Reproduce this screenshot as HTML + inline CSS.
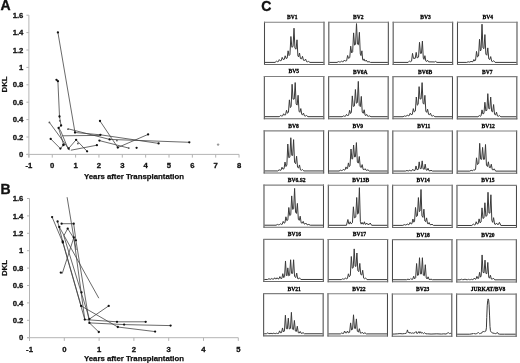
<!DOCTYPE html>
<html><head><meta charset="utf-8"><style>
html,body{margin:0;padding:0;background:#fff;}
body{width:520px;height:363px;overflow:hidden;}
svg{display:block;will-change:transform;}
.pl{font-family:"Liberation Sans", sans-serif;font-weight:bold;font-size:14px;fill:#111;stroke:#111;stroke-width:0.35px;}
.tk{font-family:"Liberation Sans", sans-serif;font-weight:bold;font-size:7.7px;fill:#111;stroke:#111;stroke-width:0.3px;}
.ax{font-family:"Liberation Sans", sans-serif;font-weight:bold;font-size:7.8px;fill:#111;stroke:#111;stroke-width:0.25px;}
.hl{font-family:"Liberation Serif", serif;font-weight:bold;font-size:6.2px;fill:#000;stroke:#000;stroke-width:0.3px;}
</style></head><body>
<svg width="520" height="363" viewBox="0 0 520 363">
<rect width="520" height="363" fill="#fff"/>
<text x="0.5" y="10.4" class="pl">A</text>
<text x="0.4" y="193.5" class="pl">B</text>
<text x="261.3" y="10.6" class="pl">C</text>
<line x1="28.9" y1="15.200000000000017" x2="28.9" y2="157.6" stroke="#b4b4b4" stroke-width="1"/>
<line x1="26.4" y1="154.4" x2="239.05" y2="154.4" stroke="#b4b4b4" stroke-width="1"/>
<line x1="26.4" y1="154.40" x2="28.9" y2="154.40" stroke="#b4b4b4" stroke-width="1"/>
<text x="23.4" y="157.00" text-anchor="end" class="tk">0</text>
<line x1="26.4" y1="137.00" x2="28.9" y2="137.00" stroke="#b4b4b4" stroke-width="1"/>
<text x="23.4" y="139.60" text-anchor="end" class="tk">0.2</text>
<line x1="26.4" y1="119.60" x2="28.9" y2="119.60" stroke="#b4b4b4" stroke-width="1"/>
<text x="23.4" y="122.20" text-anchor="end" class="tk">0.4</text>
<line x1="26.4" y1="102.20" x2="28.9" y2="102.20" stroke="#b4b4b4" stroke-width="1"/>
<text x="23.4" y="104.80" text-anchor="end" class="tk">0.6</text>
<line x1="26.4" y1="84.80" x2="28.9" y2="84.80" stroke="#b4b4b4" stroke-width="1"/>
<text x="23.4" y="87.40" text-anchor="end" class="tk">0.8</text>
<line x1="26.4" y1="67.40" x2="28.9" y2="67.40" stroke="#b4b4b4" stroke-width="1"/>
<text x="23.4" y="70.00" text-anchor="end" class="tk">1</text>
<line x1="26.4" y1="50.00" x2="28.9" y2="50.00" stroke="#b4b4b4" stroke-width="1"/>
<text x="23.4" y="52.60" text-anchor="end" class="tk">1.2</text>
<line x1="26.4" y1="32.60" x2="28.9" y2="32.60" stroke="#b4b4b4" stroke-width="1"/>
<text x="23.4" y="35.20" text-anchor="end" class="tk">1.4</text>
<line x1="26.4" y1="15.20" x2="28.9" y2="15.20" stroke="#b4b4b4" stroke-width="1"/>
<text x="23.4" y="17.80" text-anchor="end" class="tk">1.6</text>
<line x1="28.90" y1="154.4" x2="28.90" y2="157.6" stroke="#b4b4b4" stroke-width="1"/>
<text x="28.90" y="168.40" text-anchor="middle" class="tk">-1</text>
<line x1="52.25" y1="154.4" x2="52.25" y2="157.6" stroke="#b4b4b4" stroke-width="1"/>
<text x="52.25" y="168.40" text-anchor="middle" class="tk">0</text>
<line x1="75.60" y1="154.4" x2="75.60" y2="157.6" stroke="#b4b4b4" stroke-width="1"/>
<text x="75.60" y="168.40" text-anchor="middle" class="tk">1</text>
<line x1="98.95" y1="154.4" x2="98.95" y2="157.6" stroke="#b4b4b4" stroke-width="1"/>
<text x="98.95" y="168.40" text-anchor="middle" class="tk">2</text>
<line x1="122.30" y1="154.4" x2="122.30" y2="157.6" stroke="#b4b4b4" stroke-width="1"/>
<text x="122.30" y="168.40" text-anchor="middle" class="tk">3</text>
<line x1="145.65" y1="154.4" x2="145.65" y2="157.6" stroke="#b4b4b4" stroke-width="1"/>
<text x="145.65" y="168.40" text-anchor="middle" class="tk">4</text>
<line x1="169.00" y1="154.4" x2="169.00" y2="157.6" stroke="#b4b4b4" stroke-width="1"/>
<text x="169.00" y="168.40" text-anchor="middle" class="tk">5</text>
<line x1="192.35" y1="154.4" x2="192.35" y2="157.6" stroke="#b4b4b4" stroke-width="1"/>
<text x="192.35" y="168.40" text-anchor="middle" class="tk">6</text>
<line x1="215.70" y1="154.4" x2="215.70" y2="157.6" stroke="#b4b4b4" stroke-width="1"/>
<text x="215.70" y="168.40" text-anchor="middle" class="tk">7</text>
<line x1="239.05" y1="154.4" x2="239.05" y2="157.6" stroke="#b4b4b4" stroke-width="1"/>
<text x="239.05" y="168.40" text-anchor="middle" class="tk">8</text>
<text x="134" y="178.8" text-anchor="middle" class="ax">Years after Transplantation</text>
<text transform="translate(7.0,84.4) rotate(-90)" text-anchor="middle" class="ax">DKL</text>
<polyline points="57.9,32.4 75.0,132.5 100.4,134.8 158.6,143.4" fill="none" stroke="#444" stroke-width="0.8" stroke-linejoin="round"/>
<polyline points="68.1,128.8 109.6,139.4 189.3,142.3" fill="none" stroke="#444" stroke-width="0.8" stroke-linejoin="round"/>
<polyline points="62.4,135.8 100.4,135.4" fill="none" stroke="#444" stroke-width="0.8" stroke-linejoin="round"/>
<polyline points="100.0,121.0 117.8,147.5 148.1,134.4" fill="none" stroke="#444" stroke-width="0.8" stroke-linejoin="round"/>
<polyline points="68.6,148.5 76.1,139.8 87.1,151.3" fill="none" stroke="#444" stroke-width="0.8" stroke-linejoin="round"/>
<polyline points="71.0,150.2 96.9,145.2" fill="none" stroke="#444" stroke-width="0.8" stroke-linejoin="round"/>
<polyline points="50.7,138.9 60.4,148.6 63.4,145.0" fill="none" stroke="#444" stroke-width="0.8" stroke-linejoin="round"/>
<polyline points="49.4,122.4 69.8,150.3" fill="none" stroke="#444" stroke-width="0.8" stroke-linejoin="round"/>
<polyline points="56.5,79.8 57.9,81.2 59.5,116.5 61.1,125.5 58.6,128.0 63.6,144.7" fill="none" stroke="#444" stroke-width="0.8" stroke-linejoin="round"/>
<polyline points="58.6,128.0 60.5,130.5 68.0,148.5" fill="none" stroke="#444" stroke-width="0.8" stroke-linejoin="round"/>
<polyline points="99.4,140.6 128.8,148.1" fill="none" stroke="#444" stroke-width="0.8" stroke-linejoin="round"/>
<circle cx="57.9" cy="32.4" r="1.15" fill="#111"/>
<circle cx="56.5" cy="79.8" r="1.15" fill="#111"/>
<circle cx="57.9" cy="81.2" r="1.15" fill="#111"/>
<circle cx="59.5" cy="116.5" r="1.15" fill="#111"/>
<circle cx="61.1" cy="125.5" r="1.15" fill="#111"/>
<circle cx="58.6" cy="128.0" r="1.15" fill="#111"/>
<circle cx="75.0" cy="132.5" r="1.15" fill="#111"/>
<circle cx="100.4" cy="134.8" r="1.15" fill="#111"/>
<circle cx="158.6" cy="143.4" r="1.15" fill="#111"/>
<circle cx="189.3" cy="142.3" r="1.15" fill="#111"/>
<circle cx="109.6" cy="139.4" r="1.15" fill="#111"/>
<circle cx="100.0" cy="121.0" r="1.15" fill="#111"/>
<circle cx="117.8" cy="147.5" r="1.15" fill="#111"/>
<circle cx="148.1" cy="134.4" r="1.15" fill="#111"/>
<circle cx="76.1" cy="139.8" r="1.15" fill="#111"/>
<circle cx="87.1" cy="151.3" r="1.15" fill="#111"/>
<circle cx="68.6" cy="148.5" r="1.15" fill="#111"/>
<circle cx="96.9" cy="145.2" r="1.15" fill="#111"/>
<circle cx="50.7" cy="138.9" r="1.15" fill="#111"/>
<circle cx="60.4" cy="148.6" r="1.15" fill="#111"/>
<circle cx="63.4" cy="145.0" r="1.15" fill="#111"/>
<circle cx="99.4" cy="140.6" r="1.15" fill="#111"/>
<circle cx="136.6" cy="147.8" r="1.15" fill="#111"/>
<circle cx="63.6" cy="144.7" r="1.15" fill="#111"/>
<circle cx="218.1" cy="144.6" r="1.2" fill="#999"/>
<circle cx="49.4" cy="122.4" r="0.9" fill="#555"/>
<circle cx="116.9" cy="140.6" r="0.9" fill="#555"/>
<circle cx="59.8" cy="120.8" r="0.9" fill="#555"/>
<circle cx="77.9" cy="143.5" r="0.9" fill="#555"/>
<circle cx="128.8" cy="148.1" r="0.9" fill="#555"/>
<circle cx="68.0" cy="129.2" r="0.9" fill="#555"/>
<line x1="29.5" y1="198.5" x2="29.5" y2="340.9" stroke="#b4b4b4" stroke-width="1"/>
<line x1="27.0" y1="337.7" x2="238.29999999999998" y2="337.7" stroke="#b4b4b4" stroke-width="1"/>
<line x1="27.0" y1="337.70" x2="29.5" y2="337.70" stroke="#b4b4b4" stroke-width="1"/>
<text x="23.4" y="340.30" text-anchor="end" class="tk">0</text>
<line x1="27.0" y1="320.30" x2="29.5" y2="320.30" stroke="#b4b4b4" stroke-width="1"/>
<text x="23.4" y="322.90" text-anchor="end" class="tk">0.2</text>
<line x1="27.0" y1="302.90" x2="29.5" y2="302.90" stroke="#b4b4b4" stroke-width="1"/>
<text x="23.4" y="305.50" text-anchor="end" class="tk">0.4</text>
<line x1="27.0" y1="285.50" x2="29.5" y2="285.50" stroke="#b4b4b4" stroke-width="1"/>
<text x="23.4" y="288.10" text-anchor="end" class="tk">0.6</text>
<line x1="27.0" y1="268.10" x2="29.5" y2="268.10" stroke="#b4b4b4" stroke-width="1"/>
<text x="23.4" y="270.70" text-anchor="end" class="tk">0.8</text>
<line x1="27.0" y1="250.70" x2="29.5" y2="250.70" stroke="#b4b4b4" stroke-width="1"/>
<text x="23.4" y="253.30" text-anchor="end" class="tk">1</text>
<line x1="27.0" y1="233.30" x2="29.5" y2="233.30" stroke="#b4b4b4" stroke-width="1"/>
<text x="23.4" y="235.90" text-anchor="end" class="tk">1.2</text>
<line x1="27.0" y1="215.90" x2="29.5" y2="215.90" stroke="#b4b4b4" stroke-width="1"/>
<text x="23.4" y="218.50" text-anchor="end" class="tk">1.4</text>
<line x1="27.0" y1="198.50" x2="29.5" y2="198.50" stroke="#b4b4b4" stroke-width="1"/>
<text x="23.4" y="201.10" text-anchor="end" class="tk">1.6</text>
<line x1="29.50" y1="337.7" x2="29.50" y2="340.9" stroke="#b4b4b4" stroke-width="1"/>
<text x="29.50" y="351.80" text-anchor="middle" class="tk">-1</text>
<line x1="64.30" y1="337.7" x2="64.30" y2="340.9" stroke="#b4b4b4" stroke-width="1"/>
<text x="64.30" y="351.80" text-anchor="middle" class="tk">0</text>
<line x1="99.10" y1="337.7" x2="99.10" y2="340.9" stroke="#b4b4b4" stroke-width="1"/>
<text x="99.10" y="351.80" text-anchor="middle" class="tk">1</text>
<line x1="133.90" y1="337.7" x2="133.90" y2="340.9" stroke="#b4b4b4" stroke-width="1"/>
<text x="133.90" y="351.80" text-anchor="middle" class="tk">2</text>
<line x1="168.70" y1="337.7" x2="168.70" y2="340.9" stroke="#b4b4b4" stroke-width="1"/>
<text x="168.70" y="351.80" text-anchor="middle" class="tk">3</text>
<line x1="203.50" y1="337.7" x2="203.50" y2="340.9" stroke="#b4b4b4" stroke-width="1"/>
<text x="203.50" y="351.80" text-anchor="middle" class="tk">4</text>
<line x1="238.30" y1="337.7" x2="238.30" y2="340.9" stroke="#b4b4b4" stroke-width="1"/>
<text x="238.30" y="351.80" text-anchor="middle" class="tk">5</text>
<text x="134" y="360.9" text-anchor="middle" class="ax">Years after Transplantation</text>
<text transform="translate(7.0,268.0) rotate(-90)" text-anchor="middle" class="ax">DKL</text>
<polyline points="67.1,197.2 73.7,237.0 84.8,319.6" fill="none" stroke="#444" stroke-width="0.8" stroke-linejoin="round"/>
<polyline points="52.1,217.1 62.8,242.4 84.8,319.6 117.0,321.8 145.7,321.8" fill="none" stroke="#444" stroke-width="0.8" stroke-linejoin="round"/>
<polyline points="57.6,221.5 62.7,241.4 81.1,305.9 117.8,327.0 155.1,331.6" fill="none" stroke="#444" stroke-width="0.8" stroke-linejoin="round"/>
<polyline points="61.6,223.7 73.7,223.7 75.9,240.3 89.4,322.9 124.1,324.6 170.6,325.6" fill="none" stroke="#444" stroke-width="0.8" stroke-linejoin="round"/>
<polyline points="59.3,227.0 98.8,298.2" fill="none" stroke="#444" stroke-width="0.8" stroke-linejoin="round"/>
<polyline points="67.7,228.6 63.8,235.8 89.4,319.1 108.7,305.9" fill="none" stroke="#444" stroke-width="0.8" stroke-linejoin="round"/>
<polyline points="60.0,272.3 62.3,273.3 73.7,238.0" fill="none" stroke="#444" stroke-width="0.8" stroke-linejoin="round"/>
<polyline points="89.4,322.9 98.8,332.0" fill="none" stroke="#444" stroke-width="0.8" stroke-linejoin="round"/>
<polyline points="67.7,228.6 74.0,238.5 76.2,250.0" fill="none" stroke="#444" stroke-width="0.8" stroke-linejoin="round"/>
<circle cx="52.1" cy="217.1" r="1.15" fill="#111"/>
<circle cx="57.6" cy="221.5" r="1.15" fill="#111"/>
<circle cx="61.6" cy="223.7" r="1.15" fill="#111"/>
<circle cx="73.7" cy="223.7" r="1.15" fill="#111"/>
<circle cx="59.3" cy="227.0" r="1.15" fill="#111"/>
<circle cx="67.7" cy="228.6" r="1.15" fill="#111"/>
<circle cx="62.8" cy="242.4" r="1.15" fill="#111"/>
<circle cx="62.7" cy="241.4" r="1.15" fill="#111"/>
<circle cx="75.9" cy="240.3" r="1.15" fill="#111"/>
<circle cx="73.8" cy="237.4" r="1.15" fill="#111"/>
<circle cx="81.1" cy="305.9" r="1.15" fill="#111"/>
<circle cx="81.5" cy="292.4" r="1.15" fill="#111"/>
<circle cx="84.8" cy="319.6" r="1.15" fill="#111"/>
<circle cx="89.4" cy="319.1" r="1.15" fill="#111"/>
<circle cx="89.4" cy="322.9" r="1.15" fill="#111"/>
<circle cx="108.7" cy="305.9" r="1.15" fill="#111"/>
<circle cx="98.8" cy="332.0" r="1.15" fill="#111"/>
<circle cx="117.0" cy="321.8" r="1.15" fill="#111"/>
<circle cx="145.7" cy="321.8" r="1.15" fill="#111"/>
<circle cx="124.1" cy="324.6" r="1.15" fill="#111"/>
<circle cx="170.6" cy="325.6" r="1.15" fill="#111"/>
<circle cx="117.8" cy="327.0" r="1.15" fill="#111"/>
<circle cx="155.1" cy="331.6" r="1.15" fill="#111"/>
<circle cx="60.8" cy="272.6" r="1.15" fill="#111"/>
<path d="M264.50,21.80V65.00M324.00,21.80V65.00" stroke="#4a4a4a" stroke-width="1.05" fill="none"/>
<path d="M264.00,22.30H324.50" stroke="#808080" stroke-width="1.1" fill="none"/>
<path d="M264.00,64.50H324.50" stroke="#6a6a6a" stroke-width="1.05" fill="none"/>
<polyline points="265.00,62.40 275.05,62.40 276.50,61.20 277.45,61.70 278.35,61.57 279.30,59.60 280.25,60.76 281.25,60.58 282.20,57.40 283.15,59.47 284.25,59.34 285.20,55.80 286.15,58.53 287.15,58.13 288.10,50.80 289.05,55.60 289.95,54.46 290.90,36.50 291.85,47.22 293.05,46.56 294.00,28.20 294.95,48.23 296.05,49.16 297.00,39.80 297.90,55.84 298.60,56.89 299.50,53.00 300.45,58.56 301.55,58.83 302.50,56.30 303.45,60.24 304.65,60.47 305.60,59.10 306.55,61.63 307.55,61.81 308.50,61.40 309.95,62.40 323.50,62.40" fill="none" stroke="#3a3a3a" stroke-width="1.0" stroke-linejoin="round"/>
<text transform="translate(292.35,19.20) scale(0.9,1)" text-anchor="middle" class="hl">BV1</text>
<path d="M328.83,21.80V65.00M388.33,21.80V65.00" stroke="#4a4a4a" stroke-width="1.05" fill="none"/>
<path d="M328.33,22.30H388.83" stroke="#808080" stroke-width="1.1" fill="none"/>
<path d="M328.33,64.50H388.83" stroke="#6a6a6a" stroke-width="1.05" fill="none"/>
<polyline points="329.33,62.40 337.05,62.40 338.50,61.60 339.45,61.93 340.45,61.90 341.40,61.20 342.35,61.70 343.35,61.61 344.30,60.10 345.25,61.05 346.65,60.68 347.60,55.50 348.55,58.36 349.75,57.61 350.70,46.20 351.65,52.91 352.65,51.84 353.60,32.90 354.55,45.11 355.55,44.37 356.50,23.60 357.45,44.07 358.45,44.76 359.40,32.30 360.30,54.12 361.00,55.60 361.90,50.80 362.66,59.70 363.24,60.35 364.00,58.90 364.83,60.96 365.47,61.05 366.30,60.10 367.25,61.81 368.05,61.93 369.00,61.60 370.45,62.40 387.83,62.40" fill="none" stroke="#3a3a3a" stroke-width="1.0" stroke-linejoin="round"/>
<text transform="translate(358.18,19.20) scale(0.9,1)" text-anchor="middle" class="hl">BV2</text>
<path d="M393.16,21.80V65.00M452.66,21.80V65.00" stroke="#4a4a4a" stroke-width="1.05" fill="none"/>
<path d="M392.66,22.30H453.16" stroke="#808080" stroke-width="1.1" fill="none"/>
<path d="M392.66,64.50H453.16" stroke="#6a6a6a" stroke-width="1.05" fill="none"/>
<polyline points="393.66,62.40 408.15,62.40 409.60,60.90 410.55,61.73 411.55,61.13 412.50,53.40 413.45,58.37 415.25,58.29 416.20,52.40 417.15,57.92 418.55,57.11 419.50,42.30 420.45,53.40 421.45,53.30 422.40,41.10 423.30,58.23 424.00,59.40 424.90,55.70 425.85,61.09 426.65,61.46 427.60,60.30 428.55,61.86 434.55,61.95 435.50,61.40 436.95,62.40 452.16,62.40" fill="none" stroke="#3a3a3a" stroke-width="1.0" stroke-linejoin="round"/>
<text transform="translate(425.51,19.20) scale(0.9,1)" text-anchor="middle" class="hl">BV3</text>
<path d="M457.49,21.80V65.00M516.99,21.80V65.00" stroke="#4a4a4a" stroke-width="1.05" fill="none"/>
<path d="M456.99,22.30H517.49" stroke="#808080" stroke-width="1.1" fill="none"/>
<path d="M456.99,64.50H517.49" stroke="#6a6a6a" stroke-width="1.05" fill="none"/>
<polyline points="457.99,62.40 466.75,62.40 468.20,61.80 469.15,62.10 470.05,62.06 471.00,61.20 471.95,61.81 472.95,61.67 473.90,59.50 474.84,60.97 475.56,60.32 476.50,51.40 477.45,56.97 478.55,56.00 479.50,39.30 480.40,50.99 481.10,49.78 482.00,24.20 482.95,47.83 483.95,48.67 484.90,34.60 485.85,54.17 486.85,55.24 487.80,47.90 488.75,58.84 489.75,59.53 490.70,56.60 491.65,61.23 492.65,61.56 493.60,60.70 495.05,62.40 516.49,62.40" fill="none" stroke="#3a3a3a" stroke-width="1.0" stroke-linejoin="round"/>
<text transform="translate(487.74,19.20) scale(0.9,1)" text-anchor="middle" class="hl">BV4</text>
<path d="M264.33,76.07V119.27M323.83,76.07V119.27" stroke="#4a4a4a" stroke-width="1.05" fill="none"/>
<path d="M263.83,76.57H324.33" stroke="#808080" stroke-width="1.1" fill="none"/>
<path d="M263.83,118.77H324.33" stroke="#6a6a6a" stroke-width="1.05" fill="none"/>
<polyline points="264.83,116.67 279.25,116.67 280.70,115.47 281.65,116.02 282.65,115.89 283.60,113.77 284.55,115.10 285.55,114.82 286.50,110.27 287.45,113.21 288.45,112.38 289.40,99.87 290.35,107.60 291.15,106.35 292.10,84.27 293.05,99.17 294.25,99.04 295.20,82.57 296.15,104.10 297.15,105.11 298.10,95.27 299.05,111.23 299.85,112.30 300.80,108.57 301.75,114.41 302.55,114.78 303.50,113.17 304.45,115.84 305.55,116.02 306.50,115.47 307.95,116.67 323.33,116.67" fill="none" stroke="#3a3a3a" stroke-width="1.0" stroke-linejoin="round"/>
<text transform="translate(293.68,73.47) scale(0.9,1)" text-anchor="middle" class="hl">BV5</text>
<path d="M328.66,76.10V119.30M388.16,76.10V119.30" stroke="#4a4a4a" stroke-width="1.05" fill="none"/>
<path d="M328.16,76.60H388.66" stroke="#808080" stroke-width="1.1" fill="none"/>
<path d="M328.16,118.80H388.66" stroke="#6a6a6a" stroke-width="1.05" fill="none"/>
<polyline points="329.16,116.70 342.15,116.70 343.60,115.90 344.55,116.30 345.55,116.18 346.50,114.40 347.45,115.56 348.65,115.24 349.60,110.30 350.55,113.54 351.35,112.39 352.30,95.90 353.25,106.42 354.45,105.91 355.40,89.50 356.35,103.26 357.35,102.62 358.30,81.40 359.25,105.47 360.35,106.67 361.30,96.40 362.25,112.22 363.25,113.29 364.20,109.80 365.10,115.20 365.80,115.56 366.70,114.40 367.65,116.18 368.55,116.30 369.50,115.90 370.95,116.70 387.66,116.70" fill="none" stroke="#3a3a3a" stroke-width="1.0" stroke-linejoin="round"/>
<text transform="translate(360.31,73.50) scale(0.9,1)" text-anchor="middle" class="hl">BV6A</text>
<path d="M392.99,76.13V119.33M452.49,76.13V119.33" stroke="#4a4a4a" stroke-width="1.05" fill="none"/>
<path d="M392.49,76.63H452.99" stroke="#808080" stroke-width="1.1" fill="none"/>
<path d="M392.49,118.83H452.99" stroke="#6a6a6a" stroke-width="1.05" fill="none"/>
<polyline points="393.49,116.73 403.05,116.73 404.50,115.93 405.45,116.26 406.35,116.19 407.30,115.03 408.25,115.73 409.25,115.59 410.20,113.23 411.15,114.68 412.35,114.31 413.30,108.63 414.25,111.98 415.35,111.06 416.30,97.03 417.25,105.19 418.15,104.35 419.10,86.63 420.05,99.09 421.15,98.77 422.10,82.63 423.05,103.17 423.95,104.19 424.90,95.33 425.85,111.22 426.65,112.34 427.60,109.23 428.55,114.36 429.55,114.68 430.50,113.23 431.45,115.84 432.45,116.03 433.40,115.53 434.85,116.73 451.99,116.73" fill="none" stroke="#3a3a3a" stroke-width="1.0" stroke-linejoin="round"/>
<text transform="translate(425.04,73.53) scale(0.9,1)" text-anchor="middle" class="hl">BV6B</text>
<path d="M457.32,76.16V119.36M516.82,76.16V119.36" stroke="#4a4a4a" stroke-width="1.05" fill="none"/>
<path d="M456.82,76.66H517.32" stroke="#808080" stroke-width="1.1" fill="none"/>
<path d="M456.82,118.86H517.32" stroke="#6a6a6a" stroke-width="1.05" fill="none"/>
<polyline points="457.82,116.76 477.95,116.76 479.40,115.56 480.34,116.28 481.06,115.82 482.00,109.86 482.95,113.99 483.95,113.38 484.90,102.26 485.85,110.93 486.85,110.24 487.80,93.66 488.75,108.57 489.75,108.84 490.70,97.06 491.65,111.26 492.65,111.86 493.60,104.56 494.55,114.30 495.55,114.91 496.50,112.16 497.45,116.01 498.45,116.28 499.40,115.56 500.85,116.76 516.32,116.76" fill="none" stroke="#3a3a3a" stroke-width="1.0" stroke-linejoin="round"/>
<text transform="translate(487.17,73.56) scale(0.9,1)" text-anchor="middle" class="hl">BV7</text>
<path d="M264.16,130.34V173.54M323.66,130.34V173.54" stroke="#4a4a4a" stroke-width="1.05" fill="none"/>
<path d="M263.66,130.84H324.16" stroke="#808080" stroke-width="1.1" fill="none"/>
<path d="M263.66,173.04H324.16" stroke="#6a6a6a" stroke-width="1.05" fill="none"/>
<polyline points="264.66,170.94 277.75,170.94 279.20,169.74 280.15,170.35 281.05,170.15 282.00,167.24 282.95,169.11 284.05,168.70 285.00,162.04 285.95,166.54 286.85,165.10 287.80,144.04 288.75,157.65 289.85,157.15 290.80,137.74 291.75,155.33 292.65,155.48 293.60,139.64 294.55,162.35 295.65,163.68 296.60,156.24 297.55,167.28 298.55,167.98 299.50,164.94 300.45,169.88 301.45,170.25 302.40,169.54 303.85,170.94 323.16,170.94" fill="none" stroke="#3a3a3a" stroke-width="1.0" stroke-linejoin="round"/>
<text transform="translate(293.51,127.74) scale(0.9,1)" text-anchor="middle" class="hl">BV8</text>
<path d="M328.49,130.40V173.60M387.99,130.40V173.60" stroke="#4a4a4a" stroke-width="1.05" fill="none"/>
<path d="M327.99,130.90H388.49" stroke="#808080" stroke-width="1.1" fill="none"/>
<path d="M327.99,173.10H388.49" stroke="#6a6a6a" stroke-width="1.05" fill="none"/>
<polyline points="328.99,171.00 339.05,171.00 340.50,170.20 341.45,170.57 342.35,170.50 343.30,169.30 344.25,170.08 345.05,169.89 346.00,166.90 346.86,168.79 347.54,168.47 348.40,162.90 349.34,166.63 350.06,165.51 351.00,149.00 351.94,159.12 352.66,158.80 353.60,145.00 354.55,156.96 355.45,156.77 356.40,142.60 357.35,162.06 358.35,163.17 359.30,156.50 360.25,166.90 361.25,167.54 362.20,164.60 363.15,169.43 364.15,169.76 365.10,168.70 366.05,170.26 366.95,170.35 367.90,169.80 369.35,171.00 387.49,171.00" fill="none" stroke="#3a3a3a" stroke-width="1.0" stroke-linejoin="round"/>
<text transform="translate(357.84,127.80) scale(0.9,1)" text-anchor="middle" class="hl">BV9</text>
<path d="M392.82,130.46V173.66M452.32,130.46V173.66" stroke="#4a4a4a" stroke-width="1.05" fill="none"/>
<path d="M392.32,130.96H452.82" stroke="#808080" stroke-width="1.1" fill="none"/>
<path d="M392.32,173.16H452.82" stroke="#6a6a6a" stroke-width="1.05" fill="none"/>
<polyline points="393.32,171.06 405.55,171.06 407.00,170.46 407.95,170.90 408.85,170.88 409.80,170.16 410.75,170.82 411.85,170.75 412.80,169.26 413.75,170.58 415.05,170.32 416.00,165.96 416.95,169.71 418.25,169.39 419.20,161.86 420.15,168.63 421.25,168.55 422.20,160.86 423.15,168.97 424.25,169.24 425.20,164.16 426.15,169.99 427.05,170.32 428.00,168.26 428.95,170.69 430.05,170.85 431.00,170.26 432.45,171.06 451.82,171.06" fill="none" stroke="#3a3a3a" stroke-width="1.0" stroke-linejoin="round"/>
<text transform="translate(423.77,127.86) scale(0.9,1)" text-anchor="middle" class="hl">BV11</text>
<path d="M457.15,130.52V173.72M516.65,130.52V173.72" stroke="#4a4a4a" stroke-width="1.05" fill="none"/>
<path d="M456.65,131.02H517.15" stroke="#808080" stroke-width="1.1" fill="none"/>
<path d="M456.65,173.22H517.15" stroke="#6a6a6a" stroke-width="1.05" fill="none"/>
<polyline points="457.65,171.12 469.75,171.12 471.20,170.32 472.15,170.72 472.95,170.65 473.90,169.42 474.84,170.28 475.56,169.35 476.50,157.82 477.45,164.55 478.75,163.39 479.70,143.32 480.65,159.08 481.65,159.41 482.60,147.42 483.55,159.41 484.55,159.18 485.50,144.52 486.45,165.14 487.45,166.53 488.40,161.82 489.35,167.52 490.35,167.71 491.30,164.22 492.25,169.62 493.25,169.98 494.20,168.82 495.65,171.12 516.15,171.12" fill="none" stroke="#3a3a3a" stroke-width="1.0" stroke-linejoin="round"/>
<text transform="translate(488.20,127.92) scale(0.9,1)" text-anchor="middle" class="hl">BV12</text>
<path d="M263.99,184.61V227.81M323.49,184.61V227.81" stroke="#4a4a4a" stroke-width="1.05" fill="none"/>
<path d="M263.49,185.11H323.99" stroke="#808080" stroke-width="1.1" fill="none"/>
<path d="M263.49,227.31H323.99" stroke="#6a6a6a" stroke-width="1.05" fill="none"/>
<polyline points="264.49,225.21 276.05,225.21 277.50,224.41 278.45,224.78 279.35,224.72 280.30,223.71 281.25,224.40 282.25,224.22 283.20,221.41 284.15,223.16 284.95,222.79 285.90,216.81 286.85,220.67 287.85,219.93 288.80,207.51 289.75,215.65 290.75,214.72 291.70,195.91 292.65,209.39 293.65,208.79 294.60,188.41 295.55,212.24 296.45,213.44 297.40,203.41 298.35,219.33 299.25,220.35 300.20,216.21 301.15,222.74 302.25,223.16 303.20,221.41 304.15,223.94 305.05,224.08 306.00,223.11 306.95,224.67 307.85,224.78 308.80,224.41 310.25,225.21 322.99,225.21" fill="none" stroke="#3a3a3a" stroke-width="1.0" stroke-linejoin="round"/>
<text transform="translate(296.74,182.01) scale(0.9,1)" text-anchor="middle" class="hl">BV6.S2</text>
<path d="M328.32,184.70V227.90M387.82,184.70V227.90" stroke="#4a4a4a" stroke-width="1.05" fill="none"/>
<path d="M327.82,185.20H388.32" stroke="#808080" stroke-width="1.1" fill="none"/>
<path d="M327.82,227.40H388.32" stroke="#6a6a6a" stroke-width="1.05" fill="none"/>
<polyline points="328.82,225.30 346.45,225.30 347.90,219.50 348.73,223.71 349.37,223.89 350.20,221.80 351.15,223.89 352.45,222.69 353.40,206.80 354.35,217.86 355.75,217.12 356.70,197.50 357.65,214.12 358.45,213.34 359.40,187.70 360.35,221.36 361.15,224.13 362.10,222.40 362.93,224.13 363.57,224.09 364.40,221.80 365.23,224.28 365.87,224.38 366.70,223.00 367.65,224.38 369.25,224.38 370.20,223.00 371.65,225.30 387.32,225.30" fill="none" stroke="#3a3a3a" stroke-width="1.0" stroke-linejoin="round"/>
<text transform="translate(360.67,182.10) scale(0.9,1)" text-anchor="middle" class="hl">BV13B</text>
<path d="M392.65,184.79V227.99M452.15,184.79V227.99" stroke="#4a4a4a" stroke-width="1.05" fill="none"/>
<path d="M392.15,185.29H452.65" stroke="#808080" stroke-width="1.1" fill="none"/>
<path d="M392.15,227.49H452.65" stroke="#6a6a6a" stroke-width="1.05" fill="none"/>
<polyline points="393.15,225.39 402.85,225.39 404.30,224.59 405.25,224.99 406.25,224.94 407.20,223.89 408.15,224.65 409.15,224.54 410.10,222.49 411.05,223.96 411.95,223.68 412.90,218.99 413.84,222.23 414.56,221.31 415.50,207.49 416.45,216.55 417.45,215.76 418.40,197.59 419.34,211.66 420.06,211.01 421.00,189.49 421.95,215.81 422.95,217.39 423.90,209.19 424.85,220.99 425.65,221.69 426.60,217.89 427.50,223.59 428.20,223.96 429.10,222.49 430.05,224.66 431.05,224.80 432.00,224.19 433.45,225.39 451.65,225.39" fill="none" stroke="#3a3a3a" stroke-width="1.0" stroke-linejoin="round"/>
<text transform="translate(423.10,182.19) scale(0.9,1)" text-anchor="middle" class="hl">BV14</text>
<path d="M456.98,184.88V228.08M516.48,184.88V228.08" stroke="#4a4a4a" stroke-width="1.05" fill="none"/>
<path d="M456.48,185.38H516.98" stroke="#808080" stroke-width="1.1" fill="none"/>
<path d="M456.48,227.58H516.98" stroke="#6a6a6a" stroke-width="1.05" fill="none"/>
<polyline points="457.48,225.48 471.85,225.48 473.30,224.08 474.25,224.92 475.25,224.73 476.20,221.78 477.15,223.99 478.15,223.76 479.10,218.88 480.05,222.83 481.05,221.95 482.00,207.88 482.95,218.40 483.95,218.00 484.90,202.78 485.85,216.35 487.05,215.51 488.00,192.28 488.95,212.94 489.95,213.14 490.90,194.78 491.85,220.51 492.65,222.34 493.60,217.68 494.55,224.05 495.55,224.48 496.50,222.98 497.45,224.48 498.45,224.43 499.40,222.38 500.85,225.48 515.98,225.48" fill="none" stroke="#3a3a3a" stroke-width="1.0" stroke-linejoin="round"/>
<text transform="translate(487.83,182.28) scale(0.9,1)" text-anchor="middle" class="hl">BV15</text>
<path d="M263.82,238.88V282.08M323.32,238.88V282.08" stroke="#4a4a4a" stroke-width="1.05" fill="none"/>
<path d="M263.32,239.38H323.82" stroke="#808080" stroke-width="1.1" fill="none"/>
<path d="M263.32,281.58H323.82" stroke="#6a6a6a" stroke-width="1.05" fill="none"/>
<polyline points="264.32,279.48 267.55,279.48 269.00,278.68 269.95,279.23 270.85,279.22 271.80,278.48 272.75,279.17 273.75,279.11 274.70,277.78 275.56,278.95 276.24,278.95 277.10,277.78 278.05,278.95 278.95,278.86 279.90,276.58 280.85,278.58 281.85,278.35 282.80,273.68 283.75,277.68 284.55,276.67 285.50,260.98 286.33,275.33 286.97,275.88 287.80,267.88 288.75,275.88 289.65,275.24 290.60,259.78 291.55,273.37 292.65,273.37 293.60,259.78 294.55,276.43 295.75,277.50 296.70,273.08 297.65,278.58 298.45,278.95 299.40,277.78 300.85,279.48 322.82,279.48" fill="none" stroke="#3a3a3a" stroke-width="1.0" stroke-linejoin="round"/>
<text transform="translate(294.47,236.28) scale(0.9,1)" text-anchor="middle" class="hl">BV16</text>
<path d="M328.15,239.00V282.20M387.65,239.00V282.20" stroke="#4a4a4a" stroke-width="1.05" fill="none"/>
<path d="M327.65,239.50H388.15" stroke="#808080" stroke-width="1.1" fill="none"/>
<path d="M327.65,281.70H388.15" stroke="#6a6a6a" stroke-width="1.05" fill="none"/>
<polyline points="328.65,279.60 341.25,279.60 342.70,278.80 343.65,279.20 344.55,279.13 345.50,277.90 346.45,278.76 347.45,278.43 348.40,273.80 349.35,276.73 350.35,275.35 351.30,256.50 352.25,268.19 353.25,267.58 354.20,248.90 355.15,266.13 355.95,266.46 356.90,253.00 357.85,270.77 358.85,271.60 359.80,263.40 360.75,274.45 361.75,275.01 362.70,270.30 363.65,278.15 364.55,278.76 365.50,277.90 366.95,279.60 387.15,279.60" fill="none" stroke="#3a3a3a" stroke-width="1.0" stroke-linejoin="round"/>
<text transform="translate(359.40,236.40) scale(0.9,1)" text-anchor="middle" class="hl">BV17</text>
<path d="M392.48,239.12V282.32M451.98,239.12V282.32" stroke="#4a4a4a" stroke-width="1.05" fill="none"/>
<path d="M391.98,239.62H452.48" stroke="#808080" stroke-width="1.1" fill="none"/>
<path d="M391.98,281.82H452.48" stroke="#6a6a6a" stroke-width="1.05" fill="none"/>
<polyline points="392.98,279.72 406.55,279.72 408.00,279.12 408.95,279.56 409.85,279.51 410.80,278.52 411.75,279.40 412.75,279.22 413.70,276.22 414.65,278.80 415.65,277.78 416.60,263.52 417.55,275.44 418.55,274.98 419.50,257.72 420.45,273.91 421.45,273.91 422.40,257.72 423.35,275.20 424.35,275.76 425.30,264.72 426.25,277.99 427.15,278.95 428.10,276.82 429.05,279.38 430.05,279.56 431.00,279.12 432.45,279.72 451.48,279.72" fill="none" stroke="#3a3a3a" stroke-width="1.0" stroke-linejoin="round"/>
<text transform="translate(423.13,236.52) scale(0.9,1)" text-anchor="middle" class="hl">BV18</text>
<path d="M456.81,239.24V282.44M516.31,239.24V282.44" stroke="#4a4a4a" stroke-width="1.05" fill="none"/>
<path d="M456.31,239.74H516.81" stroke="#808080" stroke-width="1.1" fill="none"/>
<path d="M456.31,281.94H516.81" stroke="#6a6a6a" stroke-width="1.05" fill="none"/>
<polyline points="457.31,279.84 460.05,279.84 461.50,279.24 462.45,279.63 464.05,279.61 465.00,279.04 465.95,279.64 467.55,279.66 468.50,279.34 469.45,279.66 470.35,279.65 471.30,279.24 472.25,279.63 473.25,279.54 474.20,278.14 475.15,279.23 475.95,279.09 476.90,276.34 477.85,278.59 478.65,278.27 479.60,272.34 480.50,277.17 481.20,275.78 482.10,254.94 483.05,272.41 484.05,272.83 485.00,260.14 485.95,273.46 486.85,273.65 487.80,262.44 488.74,277.18 489.46,278.20 490.40,275.24 491.35,279.00 492.35,279.23 493.30,278.14 494.75,279.84 515.81,279.84" fill="none" stroke="#3a3a3a" stroke-width="1.0" stroke-linejoin="round"/>
<text transform="translate(487.86,236.64) scale(0.9,1)" text-anchor="middle" class="hl">BV20</text>
<path d="M263.65,293.15V336.35M323.15,293.15V336.35" stroke="#4a4a4a" stroke-width="1.05" fill="none"/>
<path d="M263.15,293.65H323.65" stroke="#808080" stroke-width="1.1" fill="none"/>
<path d="M263.15,335.85H323.65" stroke="#6a6a6a" stroke-width="1.05" fill="none"/>
<polyline points="264.15,333.75 266.35,333.75 267.80,332.85 268.75,333.56 270.05,333.60 271.00,333.25 271.95,333.60 272.85,333.59 273.80,333.15 274.75,333.56 275.75,333.56 276.70,333.15 277.65,333.56 278.65,333.38 279.60,330.85 280.55,332.85 281.55,332.62 282.50,327.95 283.45,331.95 284.45,330.94 285.40,315.25 286.35,328.68 287.35,328.91 288.30,318.15 289.25,328.91 290.45,328.45 291.40,312.35 292.35,328.98 293.45,329.63 294.40,320.45 295.35,330.96 296.35,331.43 297.30,326.25 298.25,332.62 299.25,333.04 300.20,331.45 301.15,333.29 302.05,333.38 303.00,332.55 304.45,333.75 322.65,333.75" fill="none" stroke="#3a3a3a" stroke-width="1.0" stroke-linejoin="round"/>
<text transform="translate(294.10,290.55) scale(0.9,1)" text-anchor="middle" class="hl">BV21</text>
<path d="M327.98,293.30V336.50M387.48,293.30V336.50" stroke="#4a4a4a" stroke-width="1.05" fill="none"/>
<path d="M327.48,293.80H387.98" stroke="#808080" stroke-width="1.1" fill="none"/>
<path d="M327.48,336.00H387.98" stroke="#6a6a6a" stroke-width="1.05" fill="none"/>
<polyline points="328.48,333.90 340.35,333.90 341.80,332.90 342.75,333.54 343.65,333.39 344.60,331.00 345.55,332.87 346.55,332.87 347.50,331.00 348.45,332.87 349.65,332.22 350.60,322.90 351.55,329.98 352.55,329.34 353.50,314.80 354.45,328.23 355.45,328.56 356.40,318.90 357.35,331.26 358.45,332.05 359.40,328.70 360.35,333.01 361.25,333.29 362.20,332.20 363.15,333.43 363.95,333.47 364.90,332.70 366.35,333.90 386.98,333.90" fill="none" stroke="#3a3a3a" stroke-width="1.0" stroke-linejoin="round"/>
<text transform="translate(358.83,290.70) scale(0.9,1)" text-anchor="middle" class="hl">BV22</text>
<path d="M392.31,293.45V336.65M451.81,293.45V336.65" stroke="#4a4a4a" stroke-width="1.05" fill="none"/>
<path d="M391.81,293.95H452.31" stroke="#808080" stroke-width="1.1" fill="none"/>
<path d="M391.81,336.15H452.31" stroke="#6a6a6a" stroke-width="1.05" fill="none"/>
<polyline points="392.81,334.05 394.15,334.05 397.61,333.82 399.92,333.59 402.23,333.82 404.53,333.59 406.26,333.24 406.84,332.44 407.42,329.90 407.99,331.74 408.57,332.67 409.15,332.09 409.72,333.24 410.30,332.67 411.45,333.24 412.61,332.90 413.76,333.24 414.91,332.67 416.07,331.51 416.64,333.24 417.80,333.24 418.95,331.51 419.76,333.24 420.68,331.74 421.60,333.24 422.41,332.67 423.57,333.59 424.72,332.67 425.87,333.82 427.60,333.82 431.06,334.05 436.83,333.82 441.44,334.05 443.75,333.82 446.06,334.05 447.21,333.24 448.36,332.67 449.52,333.59 450.67,333.24 451.31,334.05" fill="none" stroke="#3a3a3a" stroke-width="1.0" stroke-linejoin="round"/>
<text transform="translate(422.76,290.85) scale(0.9,1)" text-anchor="middle" class="hl">BV23</text>
<path d="M456.64,293.60V336.80M516.14,293.60V336.80" stroke="#4a4a4a" stroke-width="1.05" fill="none"/>
<path d="M456.14,294.10H516.64" stroke="#808080" stroke-width="1.1" fill="none"/>
<path d="M456.14,336.30H516.64" stroke="#6a6a6a" stroke-width="1.05" fill="none"/>
<polyline points="457.14,334.20 465.00,334.20 469.63,334.20 471.94,333.85 473.10,333.62 473.68,333.04 474.26,333.62 475.42,333.85 476.57,333.62 477.73,333.04 478.31,332.46 478.89,333.04 479.47,333.62 480.62,333.39 481.78,333.04 482.36,331.89 482.94,331.31 483.52,331.54 484.10,331.31 484.68,331.89 485.25,331.54 485.83,331.07 486.41,327.83 486.76,317.42 487.22,305.84 487.69,300.64 488.15,298.90 488.61,300.06 489.07,304.69 489.54,315.10 490.00,326.68 490.46,330.73 491.04,331.89 491.62,332.46 492.78,333.04 494.51,333.39 495.67,333.62 496.83,333.04 497.41,332.46 497.99,333.62 499.72,334.20 504.35,334.20 515.64,334.20" fill="none" stroke="#3a3a3a" stroke-width="1.0" stroke-linejoin="round"/>
<text transform="translate(487.99,291.00) scale(0.9,1)" text-anchor="middle" class="hl">JURKAT/BV8</text>
</svg>
</body></html>
